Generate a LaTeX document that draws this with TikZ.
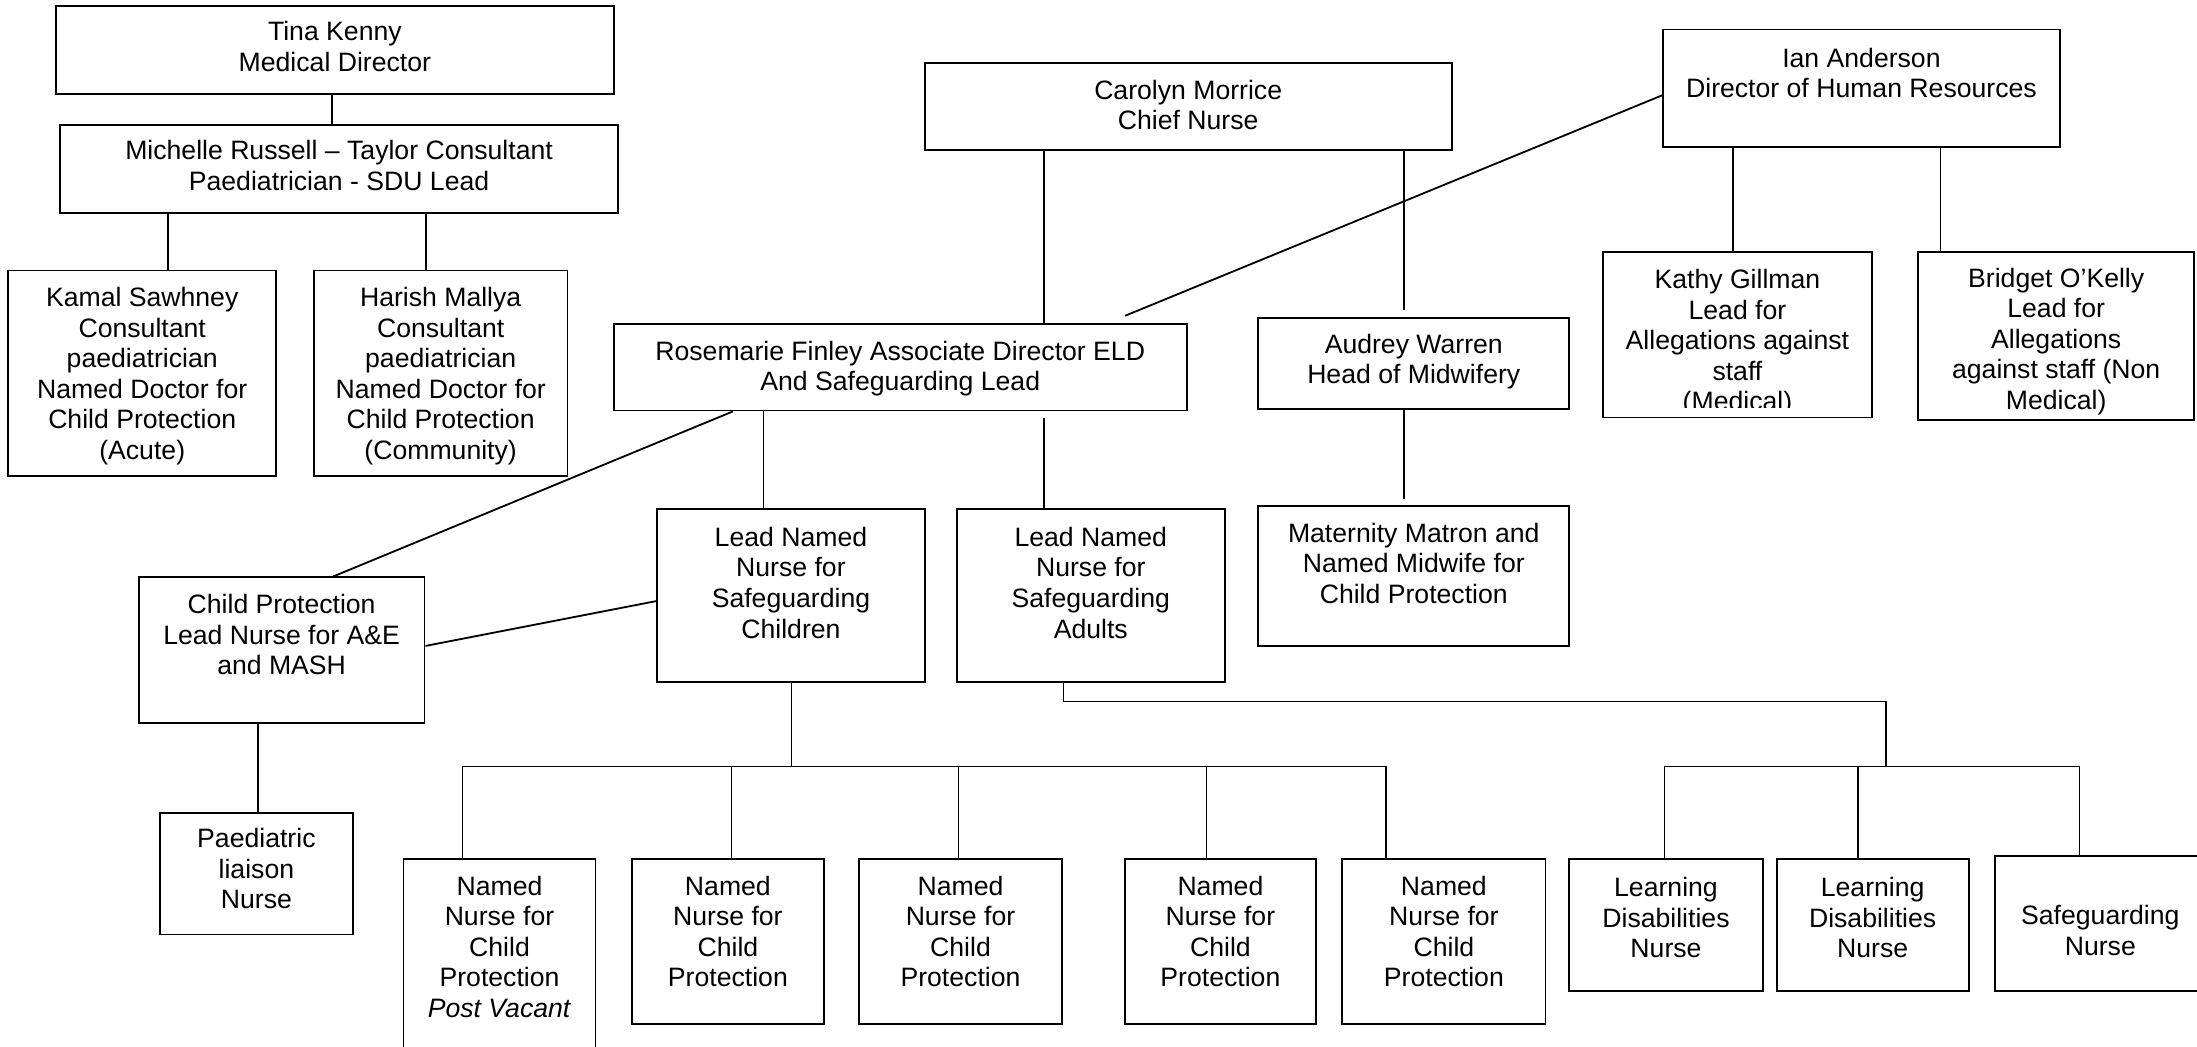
\documentclass[tikz,border=0pt]{standalone}
\usepackage{fontspec}
\setmainfont{Liberation Sans}
\newcommand\orgbox[7]{%
  \node[box,minimum width={(#4-#2)*1pt},minimum height={(#5-#3)*1pt}] (#1) at ({(#2+#4)/2},{(#3+#5)/2}) {};
  \node[lbl] (#1-t) at ({(#2+#4)/2},#6) {#7};}
\begin{document}
\begin{tikzpicture}[x=1pt,y=-1pt,
  box/.style={draw,line width=1.3pt,rectangle,inner sep=0pt},
  lbl/.style={align=center,inner sep=0pt,anchor=north,font=\fontsize{19}{21.8}\selectfont},
  con/.style={line width=1.1pt},
  diag/.style={line width=1.3pt}]
\useasboundingbox (0,0) rectangle (1568,747);
\fill[white] (0,0) rectangle (1568,747);

% top-left branch
\orgbox{tina}{40}{4}{438}{67}{15}{Tina Kenny\\Medical Director}
\orgbox{michelle}{43}{89}{441}{152}{100}{Michelle Russell – Taylor Consultant\\Paediatrician - SDU Lead}
\orgbox{kamal}{6}{193}{197}{340}{205}{Kamal Sawhney\\Consultant\\paediatrician\\Named Doctor for\\Child Protection\\(Acute)}
\orgbox{harish}{224}{193}{405}{340}{205}{Harish Mallya\\Consultant\\paediatrician\\Named Doctor for\\Child Protection\\(Community)}

% centre
\orgbox{carolyn}{660}{45}{1036}{107}{57}{Carolyn Morrice\\Chief Nurse}
\orgbox{rosemarie}{438}{231}{847}{293}{243}{Rosemarie Finley Associate Director ELD\\And Safeguarding Lead}
\orgbox{audrey}{898}{227}{1120}{292}{238}{Audrey Warren\\Head of Midwifery}
\orgbox{maternity}{898}{361}{1120}{461}{373}{Maternity Matron and\\Named Midwife for\\Child Protection}

% right
\orgbox{ian}{1187}{21}{1470}{105}{34}{Ian Anderson\\Director of Human Resources}
\node[box,minimum width=192pt,minimum height=118pt] (kathy) at (1240,239) {};
\begin{scope}
  \clip (1144,180) rectangle (1336,291);
  \node[lbl] (kathy-t) at (1240,192) {Kathy Gillman\\Lead for\\Allegations against\\staff\\(Medical)};
\end{scope}
\node[box,minimum width=197pt,minimum height=120pt] (bridget) at (1467.5,240) {};
\begin{scope}
  \clip (1369,180) rectangle (1566,297);
  \node[lbl] (bridget-t) at (1467.5,191) {Bridget O’Kelly\\Lead for\\Allegations\\against staff (Non\\Medical)};
\end{scope}

% middle row
\orgbox{cp}{99}{412}{303}{516}{424}{Child Protection\\Lead Nurse for A\&E\\and MASH}
\orgbox{leadc}{469}{363}{660}{487}{376}{Lead Named\\Nurse for\\Safeguarding\\Children}
\orgbox{leada}{683}{363}{874}{487}{376}{Lead Named\\Nurse for\\Safeguarding\\Adults}
\orgbox{paed}{114}{580}{252}{667}{591}{Paediatric\\liaison\\Nurse}

% bottom row
\orgbox{nA}{288}{613}{425}{756}{625}{Named\\Nurse for\\Child\\Protection\\\textit{Post Vacant}}
\orgbox{nB}{451}{613}{588}{731}{625}{Named\\Nurse for\\Child\\Protection}
\orgbox{nC}{613}{613}{758}{731}{625}{Named\\Nurse for\\Child\\Protection}
\orgbox{nD}{803}{613}{939}{731}{625}{Named\\Nurse for\\Child\\Protection}
\orgbox{nE}{958}{613}{1103}{731}{625}{Named\\Nurse for\\Child\\Protection}
\orgbox{ldA}{1120}{613}{1258}{707}{626}{Learning\\Disabilities\\Nurse}
\orgbox{ldB}{1268}{613}{1405}{707}{626}{Learning\\Disabilities\\Nurse}
\orgbox{sn}{1424}{611}{1574}{707}{646}{Safeguarding\\Nurse}

% connectors
\draw[con] ([xshift=-2pt]tina.south) -- ([xshift=-5pt]michelle.north);
\draw[con] ([xshift=-122pt]michelle.south) -- ([xshift=18.5pt]kamal.north);
\draw[con] ([xshift=62pt]michelle.south) -- ([xshift=-10.5pt]harish.north);
\draw[con] ([xshift=-103pt]carolyn.south) -- ([xshift=102.5pt]rosemarie.north);
\draw[con] ([xshift=154pt]carolyn.south) -- ([xshift=-7pt,yshift=5pt]audrey.north);
\draw[diag] ([yshift=-5pt]ian.west) -- ([xshift=160.5pt,yshift=5pt]rosemarie.north);
\draw[con] ([xshift=-91.5pt]ian.south) -- ([xshift=-3pt]kathy.north);
\draw[con] ([xshift=56.5pt]ian.south) -- ([xshift=-82.5pt]bridget.north);
\draw[con] ([xshift=-7pt]audrey.south) -- ([xshift=-7pt,yshift=4pt]maternity.north);
\draw[con] ([xshift=-97.5pt]rosemarie.south) -- ([xshift=-19.5pt]leadc.north);
\draw[con] ([xshift=102.5pt,yshift=-5pt]rosemarie.south) -- ([xshift=-33.5pt]leada.north);
\draw[diag] ([xshift=-119.5pt]rosemarie.south) -- ([xshift=37pt]cp.north);
\draw[diag] ([yshift=-4pt]leadc.west) -- ([yshift=3pt]cp.east);
\draw[con] ([xshift=-17pt]cp.south) -- ([xshift=1pt]paed.north);

\coordinate (busC) at (565,547);
\draw[con] ([xshift=0.5pt]leadc.south) -- (busC);
\draw[con] (busC) -| ([xshift=-26.5pt]nA.north);
\draw[con] (busC) -| ([xshift=2.5pt]nB.north);
\draw[con] (busC) -| ([xshift=-1.5pt]nC.north);
\draw[con] (busC) -| ([xshift=-10pt]nD.north);
\draw[con] (busC) -| ([xshift=-41.5pt]nE.north);

\coordinate (busA) at (1346,547);
\draw[con] ([xshift=-19.5pt]leada.south) -- ++(0,13) -| (busA);
\draw[con] (busA) -| ([xshift=-1pt]ldA.north);
\draw[con] (busA) -| ([xshift=-10.5pt]ldB.north);
\draw[con] (busA) -| ([xshift=-15pt]sn.north);
\end{tikzpicture}
\end{document}
